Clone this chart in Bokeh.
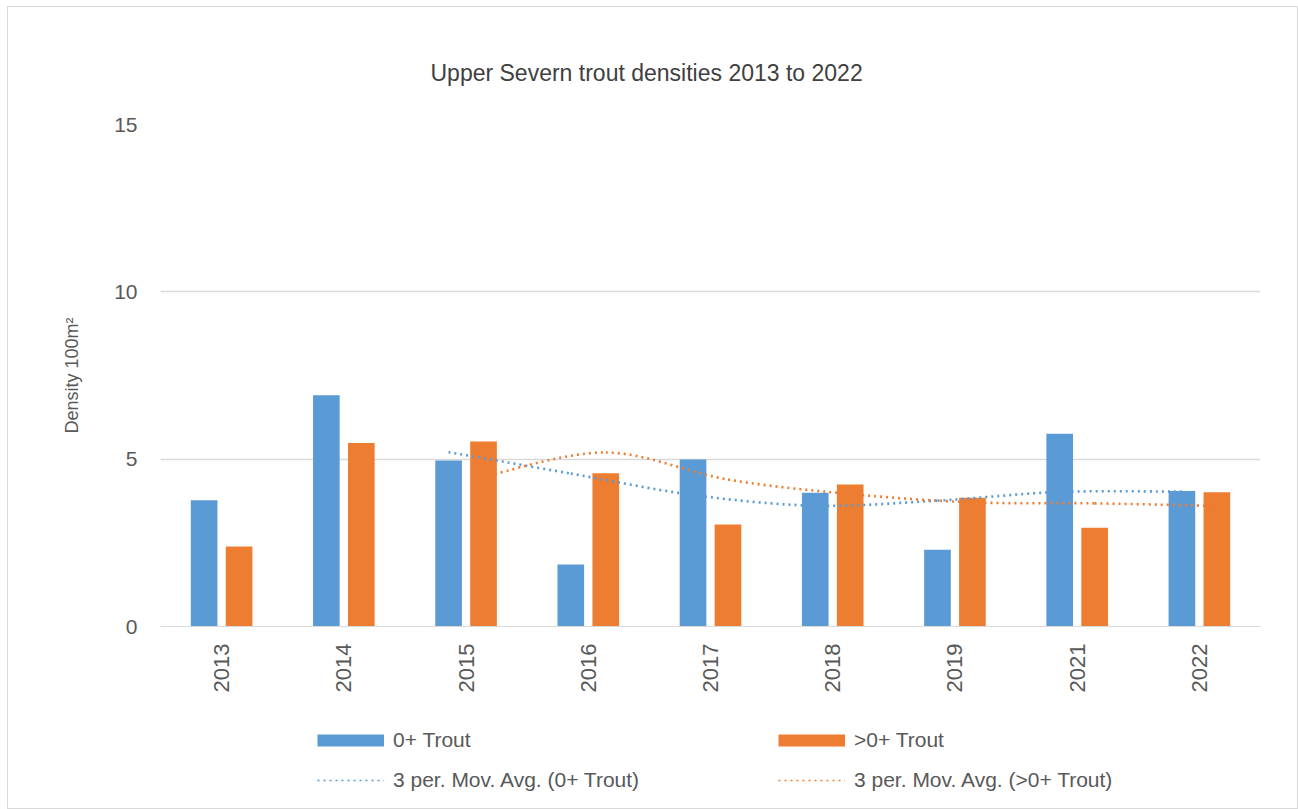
from bokeh.plotting import figure
from bokeh.layouts import column
from bokeh.models import ColumnDataSource, FixedTicker, Legend, LegendItem
from bokeh.embed import file_html
from bokeh.resources import INLINE
import math

# ---- data ----
years = ["2013", "2014", "2015", "2016", "2017", "2018", "2019", "2021", "2022"]
trout_0 = [3.77, 6.91, 4.96, 1.85, 4.99, 4.00, 2.29, 5.76, 4.05]
trout_gt0 = [2.39, 5.48, 5.53, 4.58, 3.05, 4.24, 3.85, 2.95, 4.01]
ma_years = ["2015", "2016", "2017", "2018", "2019", "2021", "2022"]
ma_0 = [5.21, 4.57, 3.93, 3.61, 3.76, 4.02, 4.03]
ma_gt0 = [4.47, 5.20, 4.39, 3.96, 3.71, 3.68, 3.60]
y_ticks = [0, 5, 10, 15]
title_text = "Upper Severn trout densities 2013 to 2022"
y_label = "Density 100m²"
series_labels = ["0+ Trout", ">0+ Trout",
                 "3 per. Mov. Avg. (0+ Trout)", "3 per. Mov. Avg. (>0+ Trout)"]

BLUE = "#5B9BD5"
ORANGE = "#ED7D31"
FONT = "Liberation Sans"
TXT = "#595959"
GRID = "#d9d9d9"

BAR_W = 0.218
OFF = 0.143

idx = list(range(len(years)))
src = ColumnDataSource(dict(
    xb=[i - OFF for i in idx], xo=[i + OFF for i in idx],
    b=trout_0, o=trout_gt0))

p = figure(width=1289, height=693, x_range=(-0.5, len(years) - 0.5), y_range=(0, 15),
           output_backend="svg", toolbar_location=None,
           min_border_left=152, min_border_right=37, min_border_top=117, min_border_bottom=74)
p.outline_line_color = None
p.background_fill_color = "white"
p.border_fill_color = "white"

p.vbar(x="xb", top="b", width=BAR_W, source=src, fill_color=BLUE, line_color=None)
p.vbar(x="xo", top="o", width=BAR_W, source=src, fill_color=ORANGE, line_color=None)


def smooth_segments(xs, ys):
    n = len(xs)
    d = dict(x0=[], y0=[], x1=[], y1=[], cx0=[], cy0=[], cx1=[], cy1=[])
    for i in range(n - 1):
        a = i - 1 if i > 0 else i
        b = i + 2 if i + 2 < n else i + 1
        d["x0"].append(xs[i]); d["y0"].append(ys[i])
        d["x1"].append(xs[i + 1]); d["y1"].append(ys[i + 1])
        d["cx0"].append(xs[i] + (xs[i + 1] - xs[a]) / 6.0)
        d["cy0"].append(ys[i] + (ys[i + 1] - ys[a]) / 6.0)
        d["cx1"].append(xs[i + 1] - (xs[b] - xs[i]) / 6.0)
        d["cy1"].append(ys[i + 1] - (ys[b] - ys[i]) / 6.0)
    return ColumnDataSource(d)


ma_idx = [years.index(y) for y in ma_years]
sb = smooth_segments([i - OFF for i in ma_idx], ma_0)
so = smooth_segments([i + OFF for i in ma_idx], ma_gt0)
p.bezier(x0="x0", y0="y0", x1="x1", y1="y1", cx0="cx0", cy0="cy0", cx1="cx1", cy1="cy1",
         source=sb, line_color=BLUE, line_width=2.6, line_dash="2 4")
p.bezier(x0="x0", y0="y0", x1="x1", y1="y1", cx0="cx0", cy0="cy0", cx1="cx1", cy1="cy1",
         source=so, line_color=ORANGE, line_width=2.6, line_dash="2 4")

# title
p.title.text = title_text
p.title.align = "left"
p.title.offset = 270
p.title.standoff = 77
p.title.text_font = FONT
p.title.text_font_size = "23px"
p.title.text_font_style = "normal"
p.title.text_color = "#404040"

# axes
p.xaxis.ticker = FixedTicker(ticks=idx)
p.xaxis.major_label_overrides = {i: y for i, y in zip(idx, years)}
p.xaxis.major_label_orientation = math.pi / 2
p.xaxis.major_label_standoff = 11
p.xaxis.major_label_text_font = FONT
p.xaxis.major_label_text_font_size = "22px"
p.xaxis.major_label_text_color = TXT
p.xaxis.major_tick_line_color = None
p.xaxis.minor_tick_line_color = None
p.xaxis.axis_line_color = GRID

p.yaxis.ticker = FixedTicker(ticks=y_ticks)
p.yaxis.major_label_standoff = 17
p.yaxis.major_label_text_font = FONT
p.yaxis.major_label_text_font_size = "21px"
p.yaxis.major_label_text_color = TXT
p.yaxis.major_tick_line_color = None
p.yaxis.minor_tick_line_color = None
p.yaxis.axis_line_color = None
p.yaxis.axis_label = y_label
p.yaxis.axis_label_text_font = FONT
p.yaxis.axis_label_text_font_size = "18px"
p.yaxis.axis_label_text_font_style = "normal"
p.yaxis.axis_label_text_color = TXT
p.yaxis.axis_label_standoff = 29

p.xgrid.grid_line_color = None
p.ygrid.grid_line_color = GRID
p.ygrid.grid_line_width = 1.3

# ---- legend strip below the chart (frame aligned with the chart frame) ----
lf = figure(width=1289, height=108, x_range=(0, 1), y_range=(0, 1),
            x_axis_type=None, y_axis_type=None, output_backend="svg",
            toolbar_location=None, min_border=0)
lf.outline_line_color = None
lf.background_fill_color = "white"
lf.border_fill_color = "white"
lf.xgrid.grid_line_color = None
lf.ygrid.grid_line_color = None

off_x = [-10, -9]
off_y = [-10, -10]
lb_bar = lf.line(x=off_x, y=off_y, line_color=BLUE, line_width=12)
lo_bar = lf.line(x=off_x, y=off_y, line_color=ORANGE, line_width=12)
lb_ma = lf.line(x=off_x, y=off_y, line_color=BLUE, line_width=1.6, line_dash="2 4")
lo_ma = lf.line(x=off_x, y=off_y, line_color=ORANGE, line_width=1.6, line_dash="2 4")

legend = Legend(items=[
    LegendItem(label=series_labels[0], renderers=[lb_bar]),
    LegendItem(label=series_labels[1], renderers=[lo_bar]),
    LegendItem(label=series_labels[2], renderers=[lb_ma]),
    LegendItem(label=series_labels[3], renderers=[lo_ma]),
], orientation="horizontal", ncols=2, location=(157, 16),
    glyph_width=67, glyph_height=24, label_height=24, label_width=369,
    label_standoff=9, spacing=16, padding=0, margin=0,
    border_line_color=None, background_fill_alpha=0,
    label_text_font=FONT, label_text_font_size="21px", label_text_color=TXT)
lf.add_layout(legend, "center")

layout = column(p, lf, spacing=0)
layout.styles = {"margin-left": "8px", "margin-top": "7px", "outline": "1px solid #d9d9d9"}

open("out.html", "w").write(file_html(layout, INLINE))
